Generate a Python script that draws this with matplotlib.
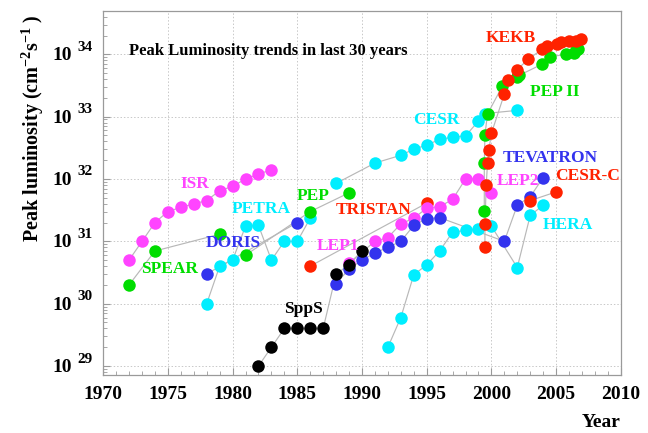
import matplotlib
matplotlib.use("Agg")
import matplotlib.pyplot as plt
from matplotlib.ticker import FixedLocator, LogLocator, NullFormatter, MultipleLocator

plt.rcParams['font.family'] = ['Liberation Serif', 'DejaVu Serif']
plt.rcParams['font.weight'] = 'bold'
plt.rcParams['mathtext.fontset'] = 'custom'
plt.rcParams['mathtext.rm'] = 'Liberation Serif:bold'
plt.rcParams['mathtext.bf'] = 'Liberation Serif:bold'
plt.rcParams['mathtext.it'] = 'Liberation Serif:bold:italic'

# ---- collider peak luminosities (cm^-2 s^-1) by year ----
isr_year = [1972, 1973, 1974, 1975, 1976, 1977, 1978, 1979, 1980, 1981, 1982, 1983]
isr_lum = [5.0e30, 1.0e31, 2.0e31, 3.0e31, 3.5e31, 4.0e31, 4.5e31, 6.5e31, 7.6e31, 1.0e32, 1.2e32, 1.4e32]

spear_year = [1972, 1974, 1979]
spear_lum = [2.0e30, 7.0e30, 1.3e31]

doris_year = [1978, 1985]
doris_lum = [3.0e30, 2.0e31]

petra_year = [1978, 1979, 1980, 1981, 1982, 1983, 1984, 1985, 1986]
petra_lum = [1.0e30, 4.0e30, 5.0e30, 1.75e31, 1.8e31, 5.0e30, 1.0e31, 1.0e31, 2.35e31]

pep_year = [1981, 1986, 1989]
pep_lum = [6.0e30, 3.0e31, 6.0e31]

spps_year = [1982, 1983, 1984, 1985, 1986, 1987, 1988, 1989, 1990]
spps_lum = [1.0e29, 2.0e29, 4.0e29, 4.0e29, 4.0e29, 4.0e29, 3.0e30, 4.2e30, 7.0e30]

cesr_year = [1988, 1991, 1993, 1994, 1995, 1996, 1997, 1998, 1999, 1999.5, 2002]
cesr_lum = [8.5e31, 1.8e32, 2.4e32, 3.0e32, 3.5e32, 4.3e32, 4.7e32, 4.9e32, 8.5e32, 1.12e33, 1.26e33]

tristan_year = [1986, 1995]
tristan_lum = [4.0e30, 4.1e31]

tevatron_year = [1988, 1989, 1990, 1991, 1992, 1993, 1994, 1995, 1996, 2001, 2002, 2003, 2004]
tevatron_lum = [2.1e30, 3.6e30, 5.0e30, 6.5e30, 8.0e30, 1.0e31, 1.8e31, 2.3e31, 2.4e31,
                1.0e31, 3.8e31, 5.2e31, 1.05e32]

lep_year = [1989, 1991, 1992, 1993, 1994, 1995, 1996, 1997, 1998, 1999, 2000]
lep_lum = [4.5e30, 1.0e31, 1.15e31, 1.9e31, 2.35e31, 3.4e31, 3.6e31, 4.7e31, 1.0e32, 1.0e32, 6.0e31]

hera_year = [1992, 1993, 1994, 1995, 1996, 1997, 1998, 1999, 2000, 2002, 2003, 2004]
hera_lum = [2.0e29, 6.0e29, 2.9e30, 4.2e30, 7.0e30, 1.4e31, 1.5e31, 1.55e31, 1.75e31,
            3.8e30, 2.6e31, 3.8e31]

kekb_year = [1999.5, 1999.5, 1999.6, 1999.7, 1999.8, 2000.0, 2001.0, 2001.3, 2001.95,
             2002.85, 2003.9, 2004.3, 2005.1, 2005.4, 2006.0, 2006.5, 2006.9]
kekb_lum = [8.0e30, 1.9e31, 8.0e31, 1.8e32, 2.9e32, 5.4e32, 2.3e33, 3.8e33, 5.6e33,
            8.3e33, 1.2e34, 1.38e34, 1.48e34, 1.55e34, 1.62e34, 1.66e34, 1.74e34]

pepii_year = [1999.45, 1999.45, 1999.5, 1999.7, 2000.85, 2002.0, 2002.15, 2003.9, 2004.5,
              2005.8, 2006.4, 2006.55, 2006.7]
pepii_lum = [3.1e31, 1.8e32, 5.1e32, 1.1e33, 3.1e33, 4.3e33, 4.6e33, 6.9e33, 9.1e33,
             1.0e34, 1.05e34, 1.15e34, 1.23e34]

cesrc_year = [2003, 2005]
cesrc_lum = [4.5e31, 6.2e31]

year_ticks = [1970, 1975, 1980, 1985, 1990, 1995, 2000, 2005, 2010]
exponent_ticks = [29, 30, 31, 32, 33, 34]

MAGENTA = '#ff44ff'
GREEN = '#00dd00'
CYAN = '#00eeff'
BLUE = '#3333ee'
RED = '#ff2200'
BLACK = '#000000'

series = [
    (isr_year, isr_lum, MAGENTA),
    (spear_year, spear_lum, GREEN),
    (petra_year, petra_lum, CYAN),
    (doris_year, doris_lum, BLUE),
    (pep_year, pep_lum, GREEN),
    (cesr_year, cesr_lum, CYAN),
    (hera_year, hera_lum, CYAN),
    (tristan_year, tristan_lum, RED),
    (lep_year, lep_lum, MAGENTA),
    (tevatron_year, tevatron_lum, BLUE),
    (spps_year, spps_lum, BLACK),
    (cesrc_year, cesrc_lum, RED),
    (pepii_year, pepii_lum, GREEN),
    (kekb_year, kekb_lum, RED),
]

labels = [
    ('ISR', 195, 183.5, MAGENTA),
    ('SPEAR', 170, 269, GREEN),
    ('DORIS', 233.7, 242.5, BLUE),
    ('PETRA', 261.7, 209, CYAN),
    ('PEP', 313.5, 195.5, GREEN),
    ('TRISTAN', 373.3, 210, RED),
    ('LEP1', 337.5, 245.5, MAGENTA),
    ('SppS', 303, 309, BLACK),
    ('CESR', 436.7, 120, CYAN),
    ('KEKB', 511, 38, RED),
    ('PEP II', 555, 91.5, GREEN),
    ('TEVATRON', 550.5, 158, BLUE),
    ('LEP2', 518, 181, MAGENTA),
    ('CESR-C', 588, 176.5, RED),
    ('HERA', 568, 225, CYAN),
]

W, H = 648, 433
fig = plt.figure(figsize=(W / 100, H / 100), dpi=100)
ax = fig.add_axes([103.2 / W, 1 - 375 / H, (620.8 - 103.2) / W, (375 - 11) / H])

ax.set_yscale('log')
ax.set_xlim(1970, 2010)
ax.set_ylim(10 ** 28.856, 10 ** 34.694)

for yr, lum, col in series:
    ax.plot(yr, lum, '-', color='#b8b8b8', lw=0.85, zorder=2)
for yr, lum, col in series:
    ax.plot(yr, lum, 'o', color=col, ms=9, mec=col, mew=0, zorder=3)

# grid and frame
ax.grid(True, which='major', color='#c8c8c8', ls=(0, (1.5, 2)), lw=0.7)
for sp in ax.spines.values():
    sp.set_color('#9a9a9a')
    sp.set_linewidth(0.9)

ax.xaxis.set_major_locator(FixedLocator(year_ticks))
ax.xaxis.set_minor_locator(MultipleLocator(1))
ax.set_xticklabels([str(y) for y in year_ticks], fontsize=14, fontweight='bold')
ax.yaxis.set_major_locator(FixedLocator([10.0 ** e for e in exponent_ticks]))
ax.yaxis.set_minor_locator(LogLocator(base=10, subs=range(2, 10), numticks=20))
ax.yaxis.set_minor_formatter(NullFormatter())
ax.set_yticklabels([''] * len(exponent_ticks))
ax.tick_params(which='both', direction='in', color='#9a9a9a', top=False, right=False)
ax.tick_params(which='major', length=5, width=0.8, pad=8)
ax.tick_params(which='minor', length=3, width=0.6)

# power-of-ten tick labels, written as "10" with a raised exponent
for e in exponent_ticks:
    ax.annotate('10', xy=(0, 10.0 ** e), xycoords=('axes fraction', 'data'),
                xytext=(-31 * 0.72, -1.5 * 0.72), textcoords='offset points',
                ha='right', va='center', fontsize=14, fontweight='bold')
    ax.annotate(str(e), xy=(0, 10.0 ** e), xycoords=('axes fraction', 'data'),
                xytext=(-26 * 0.72, 7 * 0.72), textcoords='offset points',
                ha='left', va='center', fontsize=11, fontweight='bold')

# collider names
for name, px, py, col in labels:
    fig.text(px / W, 1 - py / H, name, color=col, fontsize=12.5, fontweight='bold',
             ha='center', va='center')

fig.text(129 / W, 1 - 55 / H, 'Peak Luminosity trends in last 30 years',
         fontsize=12, fontweight='bold', ha='left', va='baseline')

fig.text(620.7 / W, 1 - 427 / H, 'Year', fontsize=14, fontweight='bold',
         ha='right', va='baseline')

fig.text(33 / W, 1 - 128 / H, r'Peak luminosity (cm$^{-2}$s$^{-1}$ )',
         fontsize=14.5, fontweight='bold', rotation=90, ha='center', va='center')

fig.savefig('out.png', dpi=100)
